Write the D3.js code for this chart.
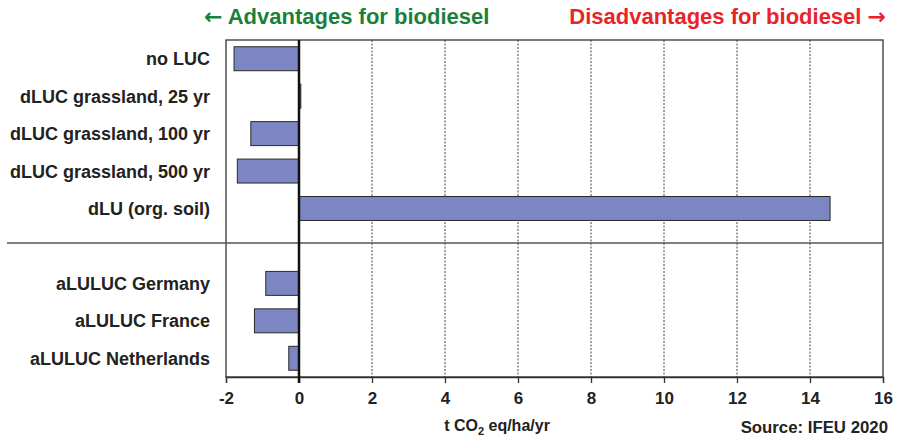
<!DOCTYPE html>
<html><head><meta charset="utf-8">
<script src="https://cdn.jsdelivr.net/npm/d3@7/dist/d3.min.js"></script>
<style>body{margin:0;background:#fff}svg{display:block;font-family:"Liberation Sans",Arial,sans-serif;font-weight:bold}</style>
</head><body><svg id="c" width="898" height="438"></svg>
<script>
const categories = ["no LUC","dLUC grassland, 25 yr","dLUC grassland, 100 yr","dLUC grassland, 500 yr","dLU (org. soil)","","aLULUC Germany","aLULUC France","aLULUC Netherlands"];
const values = [-1.78, 0.05, -1.32, -1.69, 14.55, null, -0.91, -1.22, -0.28];
const xTicks = [-2,0,2,4,6,8,10,12,14,16];
const xDomain = [-2,16];
const headerLeft = "Advantages for biodiesel";
const headerRight = "Disadvantages for biodiesel";
const source = "Source: IFEU 2020";

const svg = d3.select("#c");
const m = {l:226, r:883, t:40, b:377};
const x = d3.scaleLinear().domain(xDomain).range([m.l, m.r]);
const y = d3.scaleBand().domain(categories).range([m.t, m.b]).paddingInner(0.36).paddingOuter(0.18);

// grid lines
svg.append("g").selectAll("line").data(xTicks.filter(d=>d>xDomain[0]&&d<xDomain[1]&&d!==0)).join("line")
  .attr("x1",d=>x(d)).attr("x2",d=>x(d)).attr("y1",m.t).attr("y2",m.b)
  .attr("stroke","#444").attr("stroke-width",1).attr("stroke-dasharray","2,1.5");

// frame
svg.append("rect").attr("x",m.l).attr("y",m.t).attr("width",m.r-m.l).attr("height",m.b-m.t)
  .attr("fill","none").attr("stroke","#333").attr("stroke-width",1.3);

// separator
const sepY = y("") + y.bandwidth()/2 - 3;
svg.append("line").attr("x1",7).attr("x2",m.r).attr("y1",sepY).attr("y2",sepY)
  .attr("stroke","#555").attr("stroke-width",1.5);

// bars
const data = categories.map((c,i)=>({c, v:values[i]})).filter(d=>d.v!==null);
svg.append("g").selectAll("rect").data(data).join("rect")
  .attr("x",d=>x(Math.min(0,d.v))).attr("width",d=>Math.abs(x(d.v)-x(0)))
  .attr("y",d=>y(d.c)).attr("height",y.bandwidth())
  .attr("fill","#7b86c2").attr("stroke","#2a2a2a").attr("stroke-width",1);

// bottom axis
const ax = d3.axisBottom(x).tickValues(xTicks).tickSize(6).tickPadding(9).tickFormat(d=>String(d));
const gx = svg.append("g").attr("transform",`translate(0,${m.b})`).call(ax);
gx.select(".domain").attr("stroke","#333").attr("stroke-width",1.3);
gx.selectAll(".tick line").attr("stroke","#333").attr("stroke-width",1.3);
gx.selectAll(".tick text").attr("font-size",17).attr("font-weight","bold").attr("fill","#222")
  .attr("font-family","'Liberation Sans',Arial,sans-serif");

// zero line
svg.append("line").attr("x1",x(0)).attr("x2",x(0)).attr("y1",m.t).attr("y2",m.b+6)
  .attr("stroke","#111").attr("stroke-width",2.5);

// category labels
svg.append("g").selectAll("text").data(categories.filter(c=>c)).join("text")
  .attr("x",210).attr("y",d=>y(d)+y.bandwidth()/2).attr("dy","0.36em")
  .attr("text-anchor","end").attr("font-size",18).attr("fill","#222").text(d=>d);

// headers
const hl = svg.append("text").attr("x",204).attr("y",23.5).attr("font-size",22).attr("fill","#1b7f3b");
hl.append("tspan").attr("font-family","'DejaVu Sans',sans-serif").text("←");
hl.append("tspan").text(" " + headerLeft);
const hr = svg.append("text").attr("x",886).attr("y",23.5).attr("text-anchor","end").attr("font-size",22).attr("fill","#e8232a");
hr.append("tspan").text(headerRight + " ");
hr.append("tspan").attr("font-family","'DejaVu Sans',sans-serif").text("→");

// axis title
const t = svg.append("text").attr("x",497).attr("y",431).attr("text-anchor","middle").attr("font-size",16).attr("fill","#222");
t.append("tspan").text("t CO");
t.append("tspan").attr("font-size",11).attr("dy",4).text("2");
t.append("tspan").attr("dy",-4).text(" eq/ha/yr");

svg.append("text").attr("x",888).attr("y",433).attr("text-anchor","end").attr("font-size",16.8).attr("fill","#222").text(source);
</script></body></html>
